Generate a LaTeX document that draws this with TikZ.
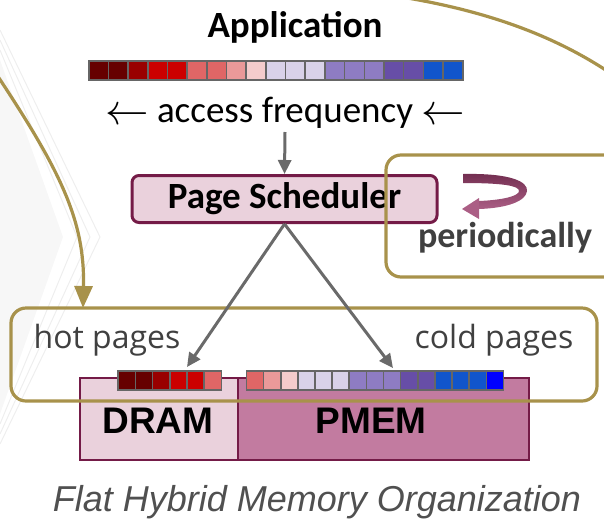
\documentclass[tikz,border=0pt]{standalone}
\usepackage{fontspec}
\setmainfont{Carlito}
\newfontfamily\osans{Open Sans}
\newfontfamily\lsans{Liberation Sans}
\usetikzlibrary{arrows.meta}

\definecolor{hA}{HTML}{660000}
\definecolor{hB}{HTML}{990000}
\definecolor{hC}{HTML}{CC0000}
\definecolor{hD}{HTML}{E06666}
\definecolor{hE}{HTML}{EA9999}
\definecolor{hF}{HTML}{F4CCCC}
\definecolor{cA}{HTML}{D9D2E9}
\definecolor{cB}{HTML}{8E7CC3}
\definecolor{cC}{HTML}{674EA7}
\definecolor{cD}{HTML}{1155CC}
\definecolor{cE}{HTML}{0000FF}
\definecolor{cellline}{HTML}{666666}
\definecolor{lightmag}{HTML}{EAD1DC}
\definecolor{midmag}{HTML}{C27BA0}
\definecolor{darkmag}{HTML}{741B47}
\definecolor{gold}{HTML}{A8924B}
\definecolor{txtgray}{HTML}{404040}
\definecolor{capgray}{HTML}{505050}
\definecolor{arrowgray}{HTML}{6A6A6A}
\definecolor{bgline}{HTML}{EEEEEE}
\definecolor{bgfill}{HTML}{F7F7F7}

\newcommand{\bigleft}{\raisebox{-2.5pt}{\scalebox{1.75}{$\leftarrow$}}}

\tikzset{
  cellbox/.style={draw=cellline, line width=1.6pt, inner sep=0pt, anchor=north west},
  goldbox/.style={draw=gold, line width=3.2pt, rounded corners=15pt},
  grayarrow/.style={draw=arrowgray, line width=3pt, -{Triangle[length=14pt,width=13pt]}},
  goldarrow/.style={draw=gold, line width=3.2pt},
  memtext/.style={font=\lsans\bfseries\fontsize{37}{37}\selectfont, anchor=base},
  pagetext/.style={font=\osans\fontsize{32}{32}\selectfont, text=txtgray, anchor=base},
}

\begin{document}
\begin{tikzpicture}[x=1pt, y=-1pt]
\useasboundingbox (0,0) rectangle (604,520);
\clip (0,0) rectangle (604,520);

% faint chevrons in the background
\fill[bgfill] (0,60) -- (63,237) -- (0,414) -- cycle;
\draw[bgline, line width=1pt] (0,50) -- (77,237) -- (0,424);
\draw[bgline, line width=1pt] (0,40) -- (90,237) -- (0,434);
\draw[bgline, line width=1pt] (0,30) -- (100,237) -- (0,444);

% application and its access-frequency bar
\node[anchor=base, font=\bfseries\fontsize{37}{37}\selectfont] (app) at (295,37) {Application};
\foreach \c [count=\i from 0] in {hA,hA,hB,hC,hC,hD,hD,hE,hF,cA,cA,cA,cB,cB,cB,cC,cC,cD,cD} {
  \node[cellbox, fill=\c, minimum width=19.68pt, minimum height=19pt] (top\i) at ({88+19.68*\i},60) {};
}
\node[anchor=base, font=\fontsize{37}{37}\selectfont] (freq) at (285,122)
  {\bigleft\ access frequency\ \bigleft};

% page scheduler
\node[draw=darkmag, fill=lightmag, line width=3pt, rounded corners=7pt,
      minimum width=305pt, minimum height=47pt, inner sep=0pt,
      font=\bfseries\fontsize{37}{37}\selectfont] (ps) at (284.5,199) {Page Scheduler};
\draw[grayarrow] (285,132) -- (ps.north);

% periodic loop box
\draw[goldbox] (386,155) rectangle (640,277);
\coordinate (loopR) at (640,95);
\shade[top color=darkmag!85!black!90, bottom color=midmag!70!darkmag]
  (463,174) .. controls (512,173) and (528,182) .. (527,191)
  .. controls (526,201) and (508,208) .. (479,209)
  -- (479,201) .. controls (503,200) and (519,196) .. (519,191)
  .. controls (519,186) and (505,183) .. (463,183) -- cycle;
\fill[midmag!70!darkmag] (479,198) -- (462,209) -- (479,219) -- cycle;
\node[anchor=base, text=txtgray, font=\bfseries\fontsize{36}{36}\selectfont] (per) at (505,247) {periodically};

% memory devices
\node[draw=darkmag, fill=lightmag, line width=1.5pt, minimum width=158pt, minimum height=82pt,
      inner sep=0pt, anchor=north west] (dram) at (79,377) {};
\node[draw=darkmag, fill=midmag, line width=1.5pt, minimum width=291pt, minimum height=82pt,
      inner sep=0pt, anchor=north west] (pmem) at (237,377) {};
\node[memtext] (dramlbl) at (158,433) {DRAM};
\node[memtext] (pmemlbl) at (371,433) {PMEM};

% pages placed in each memory
\foreach \c [count=\i from 0] in {hA,hA,hB,hC,hC,hD} {
  \node[cellbox, fill=\c, minimum width=17.23pt, minimum height=19pt] (hot\i) at ({117.3+17.23*\i},370) {};
}
\foreach \c [count=\i from 0] in {hD,hE,hF,cA,cA,cA,cB,cB,cB,cC,cC,cD,cD,cD,cE} {
  \node[cellbox, fill=\c, minimum width=17.13pt, minimum height=19pt] (cold\i) at ({245.7+17.13*\i},370) {};
}

% flat hybrid memory region
\draw[goldbox] (11,308) rectangle (597,401);
\node[pagetext] (hotlbl) at (107,348) {hot pages};
\node[pagetext] (coldlbl) at (494,348) {cold pages};

% scheduler decisions
\coordinate (hottip) at (187,367);
\coordinate (coldtip) at (393,368);
\draw[grayarrow] (ps.south) -- (hottip);
\draw[grayarrow] (ps.south) -- (coldtip);

% feedback loop from the periodic box back to the memory region
\coordinate (loopL) at (-5,72);
\coordinate (memtop) at (83,308);
\draw[goldarrow] (loopR) .. controls (560,30) and (460,0) .. (330,-12);
\draw[goldarrow, -{Triangle[length=22pt,width=18pt]}] (loopL) .. controls (60,170) and (85,220) .. (memtop);

% caption
\node[anchor=base, text=capgray, font=\lsans\itshape\fontsize{36}{36}\selectfont] (cap) at (317,511)
  {Flat Hybrid Memory Organization};
\end{tikzpicture}
\end{document}
